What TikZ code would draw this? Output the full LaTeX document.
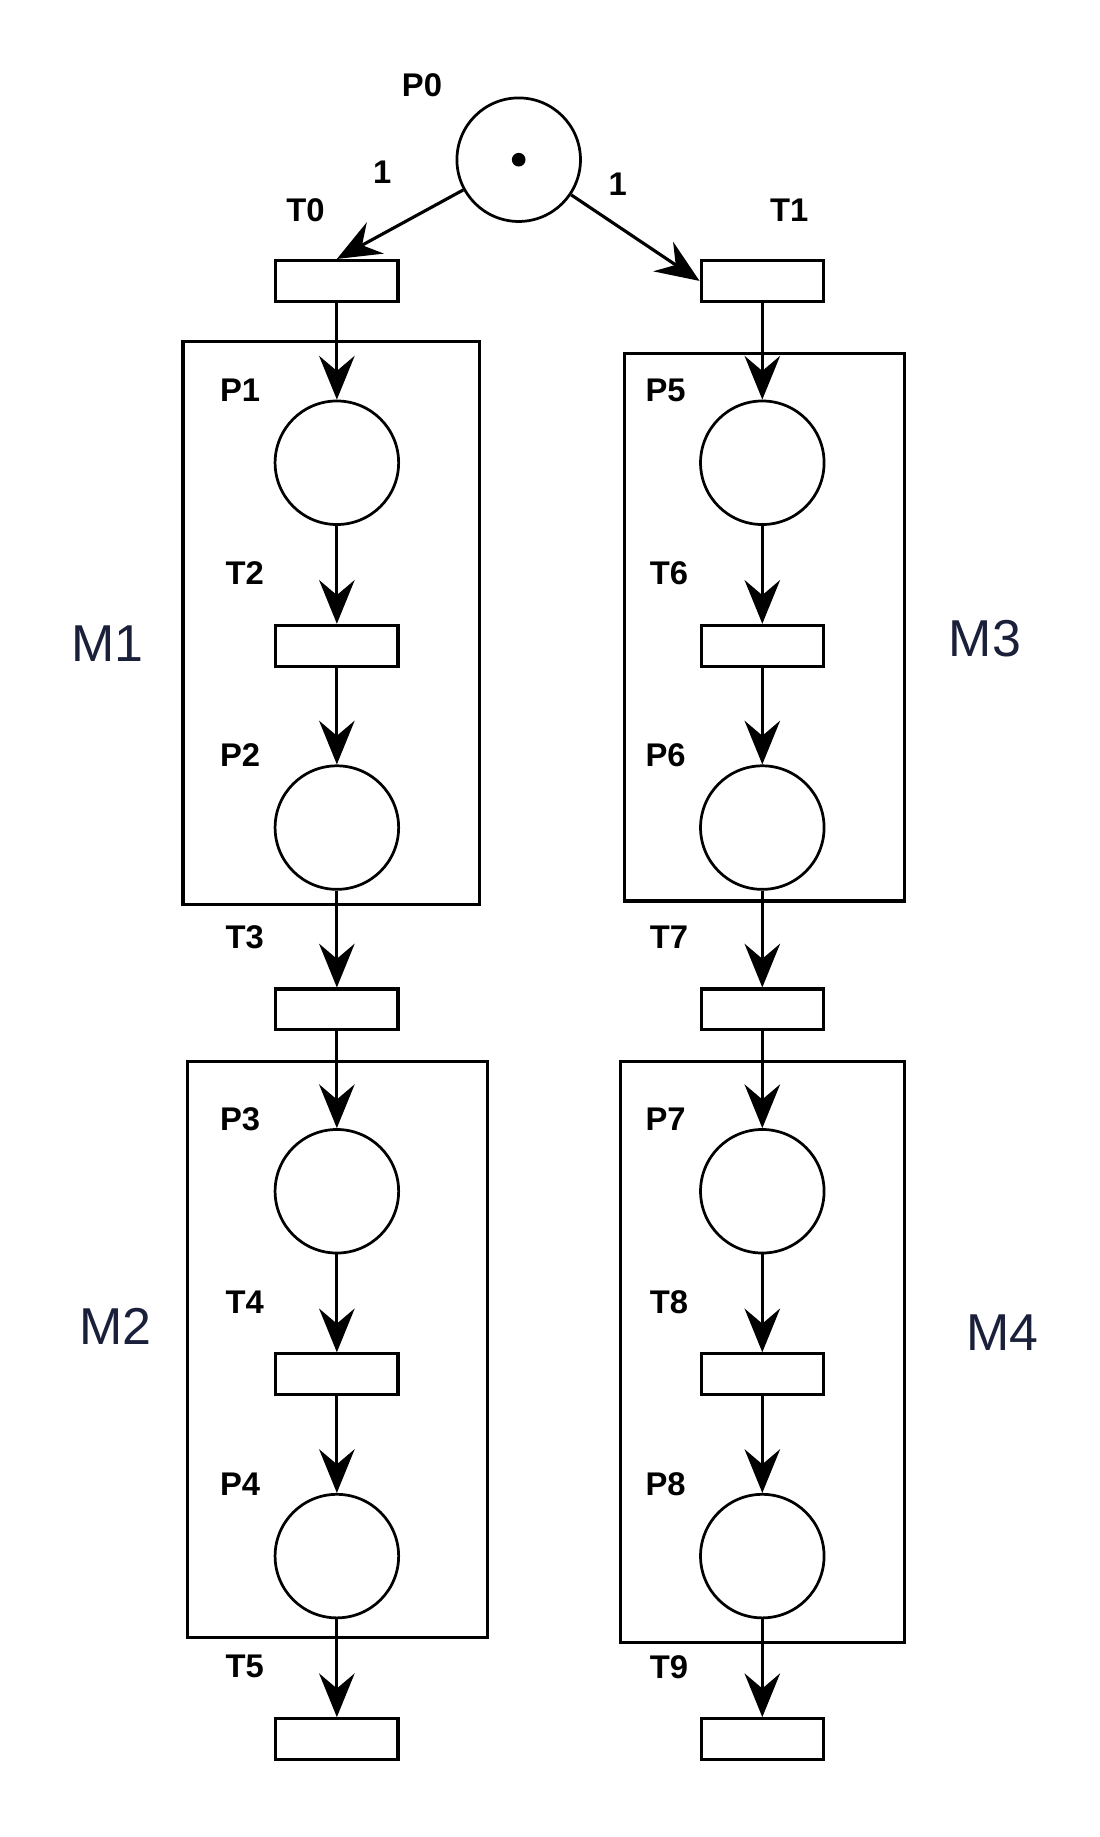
\documentclass[tikz,border=0pt]{standalone}
\usepackage{fontspec}
\setmainfont{Liberation Sans}
\usetikzlibrary{arrows.meta}
\definecolor{mcol}{HTML}{1A1F3A}
\begin{document}
\begin{tikzpicture}[x=0.03cm,y=-0.03cm,
  place/.style={circle,draw,line width=2pt,minimum size=106*0.03cm,inner sep=0pt},
  trans/.style={rectangle,draw,line width=2.3pt,minimum width=105*0.03cm,minimum height=35*0.03cm,inner sep=0pt},
  mod/.style={draw,line width=2.3pt},
  lab/.style={font=\fontsize{24}{26}\selectfont\bfseries},
  mlab/.style={font=\fontsize{38}{42}\selectfont,text=mcol},
  arc/.style={-{Stealth[length=32pt,width=26pt,inset=11pt]},line width=2.3pt}]
\useasboundingbox (0,0) rectangle (943,1576);
% modules
\draw[mod] (157,293) rectangle (411,776);
\draw[mod] (536,303) rectangle (776,773);
\draw[mod] (161,911) rectangle (418,1405);
\draw[mod] (532,911) rectangle (776,1409);
\node[mlab] (m1) at (92,552) {M1};
\node[mlab] (m3) at (845,548) {M3};
\node[mlab] (m2) at (99,1138) {M2};
\node[mlab] (m4) at (860,1143) {M4};
% P0
\node[place] (p0) at (445,137) {};
\fill (p0.center) circle (5pt);
\node[lab] (lp0) at (362,73) {P0};
\node[trans] (t0) at (289,241) {};
\node[trans] (t1) at (654,241) {};
\node[lab] (lt0) at (262,180) {T0};
\node[lab] (lt1) at (677,180) {T1};
\node[lab] (w0) at (328,148) {1};
\node[lab] (w1) at (530,158) {1};
\draw[arc] (p0) -- (t0.north);
\draw[arc] (p0) -- (t1.west);
% left column
\node[place] (p1) at (289,397) {};
\node[trans] (t2) at (289,554) {};
\node[place] (p2) at (289,710) {};
\node[trans] (t3) at (289,866) {};
\node[place] (p3) at (289,1022) {};
\node[trans] (t4) at (289,1179) {};
\node[place] (p4) at (289,1335) {};
\node[trans] (t5) at (289,1492) {};
\node[lab] at (206,335) {P1};
\node[lab] at (210,492) {T2};
\node[lab] at (206,648) {P2};
\node[lab] at (210,804) {T3};
\node[lab] at (206,960) {P3};
\node[lab] at (210,1117) {T4};
\node[lab] at (206,1273) {P4};
\node[lab] at (210,1430) {T5};
% right column
\node[place] (p5) at (654,397) {};
\node[trans] (t6) at (654,554) {};
\node[place] (p6) at (654,710) {};
\node[trans] (t7) at (654,866) {};
\node[place] (p7) at (654,1022) {};
\node[trans] (t8) at (654,1179) {};
\node[place] (p8) at (654,1335) {};
\node[trans] (t9) at (654,1492) {};
\node[lab] at (571,335) {P5};
\node[lab] at (574,492) {T6};
\node[lab] at (571,648) {P6};
\node[lab] at (574,804) {T7};
\node[lab] at (571,960) {P7};
\node[lab] at (574,1117) {T8};
\node[lab] at (571,1273) {P8};
\node[lab] at (574,1430) {T9};
\foreach \a/\b in {t0/p1,p1/t2,t2/p2,p2/t3,t3/p3,p3/t4,t4/p4,p4/t5,t1/p5,p5/t6,t6/p6,p6/t7,t7/p7,p7/t8,t8/p8,p8/t9}
  \draw[arc] (\a.south) -- (\b.north);
\end{tikzpicture}
\end{document}
